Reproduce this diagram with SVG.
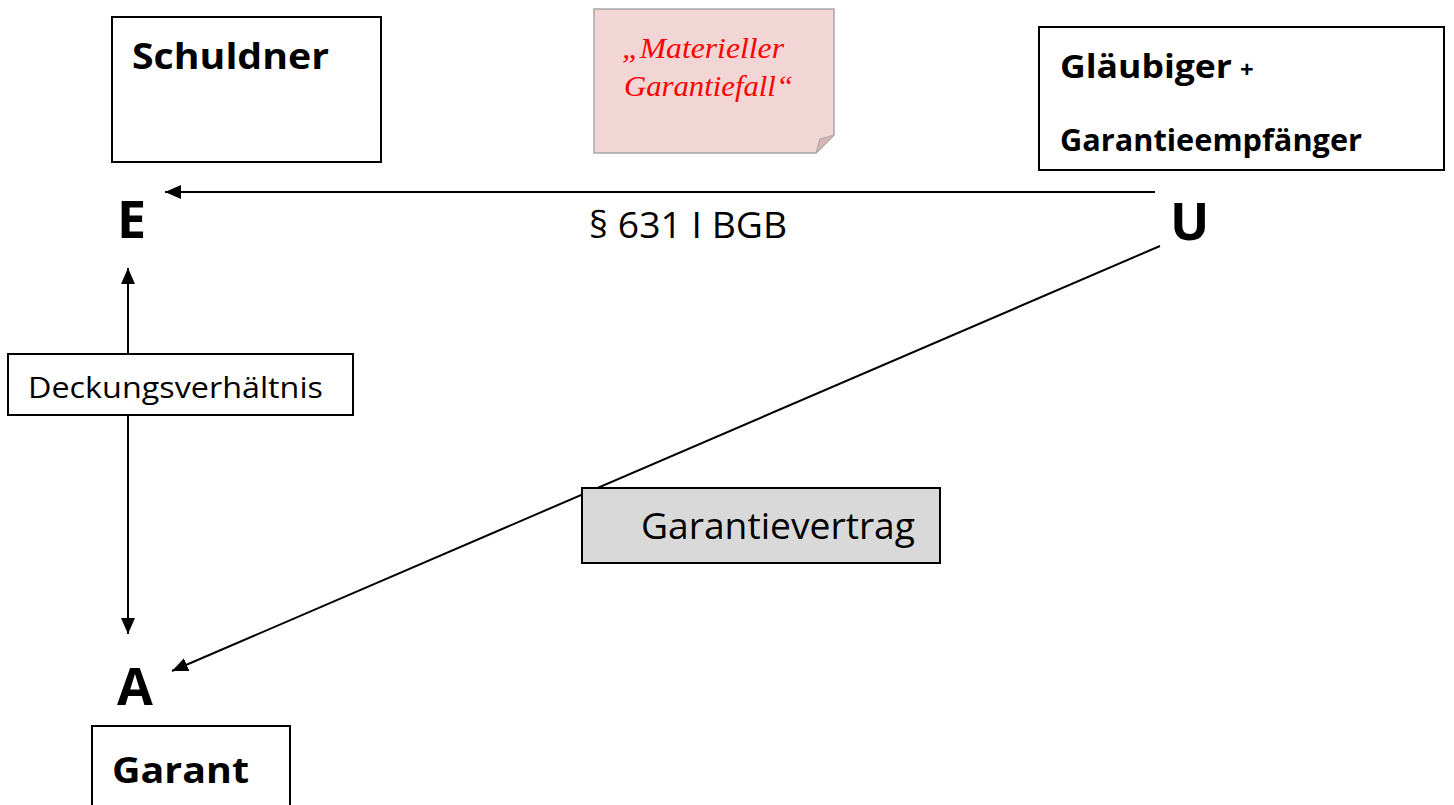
<svg xmlns="http://www.w3.org/2000/svg" width="1454" height="805" viewBox="0 0 1454 805">
<style>
.box{fill:#fff;stroke:#000;stroke-width:2}
.b{font-family:"Open Sans","Noto Sans",sans-serif;font-weight:bold;fill:#000}
.r{font-family:"Open Sans","Noto Sans",sans-serif;fill:#000}
.ln{stroke:#000;stroke-width:2;fill:none}
</style>
<defs>
<marker id="ah" viewBox="0 0 16 14" refX="16" refY="7" markerWidth="16" markerHeight="14" markerUnits="userSpaceOnUse" orient="auto-start-reverse">
<path d="M0,0 L16,7 L0,14 Z" fill="#000"/>
</marker>
</defs>
<rect width="1454" height="805" fill="#fff"/>
<g id="schuldner">
<rect class="box" x="112" y="17" width="269" height="145"/>
<text class="b" x="132" y="69" font-size="36" textLength="197" lengthAdjust="spacingAndGlyphs">Schuldner</text>
</g>
<g id="garantiefall">
<path d="M594,9 H834 V135 L816,153 H594 Z" fill="#f2d5d5" stroke="#a6a6a6" stroke-width="1.5"/>
<path d="M816,153 L820,139 L834,135 Z" fill="#d8b4b4" stroke="#a6a6a6" stroke-width="1"/>
<text font-family="'Liberation Serif',serif" font-style="italic" font-size="29" fill="#ff0000"><tspan x="622" y="58" textLength="162" lengthAdjust="spacingAndGlyphs">„Materieller</tspan><tspan x="624" y="96" textLength="169" lengthAdjust="spacingAndGlyphs">Garantiefall“</tspan></text>
</g>
<g id="glaeubiger">
<rect class="box" x="1039" y="27" width="405" height="143"/>
<text class="b" x="1060" y="78" font-size="32" textLength="172" lengthAdjust="spacingAndGlyphs">Gläubiger</text>
<text class="b" x="1240" y="78" font-size="24">+</text>
<text class="b" x="1060" y="151" font-size="31" textLength="302" lengthAdjust="spacingAndGlyphs">Garantieempfänger</text>
</g>
<g id="E"><text class="b" x="117" y="238" font-size="52">E</text></g>
<g id="U"><text class="b" x="1170" y="240" font-size="52">U</text></g>
<g id="A"><text class="b" x="117" y="705" font-size="52">A</text></g>
<g id="garant">
<rect class="box" x="92" y="726" width="198" height="90"/>
<text class="b" x="112" y="783" font-size="36" textLength="137" lengthAdjust="spacingAndGlyphs">Garant</text>
</g>
<g id="connectors">
<line class="ln" x1="1155" y1="192" x2="165" y2="192" marker-end="url(#ah)"/>
<line class="ln" x1="128" y1="268" x2="128" y2="634" marker-start="url(#ah)" marker-end="url(#ah)"/>
<line class="ln" x1="1160" y1="246" x2="172" y2="671" marker-end="url(#ah)"/>
</g>
<g id="bgb"><text class="r" x="589" y="238" font-size="36" textLength="198" lengthAdjust="spacingAndGlyphs">§ 631 I BGB</text></g>
<g id="deckung">
<rect class="box" x="8" y="354" width="345" height="61"/>
<text class="r" x="28" y="398" font-size="30" textLength="295" lengthAdjust="spacingAndGlyphs">Deckungsverhältnis</text>
</g>
<g id="garantievertrag">
<rect x="582" y="488" width="358" height="75" fill="#d9d9d9" stroke="#000" stroke-width="2"/>
<text class="r" x="641" y="539" font-size="36" textLength="274" lengthAdjust="spacingAndGlyphs">Garantievertrag</text>
</g>
</svg>
